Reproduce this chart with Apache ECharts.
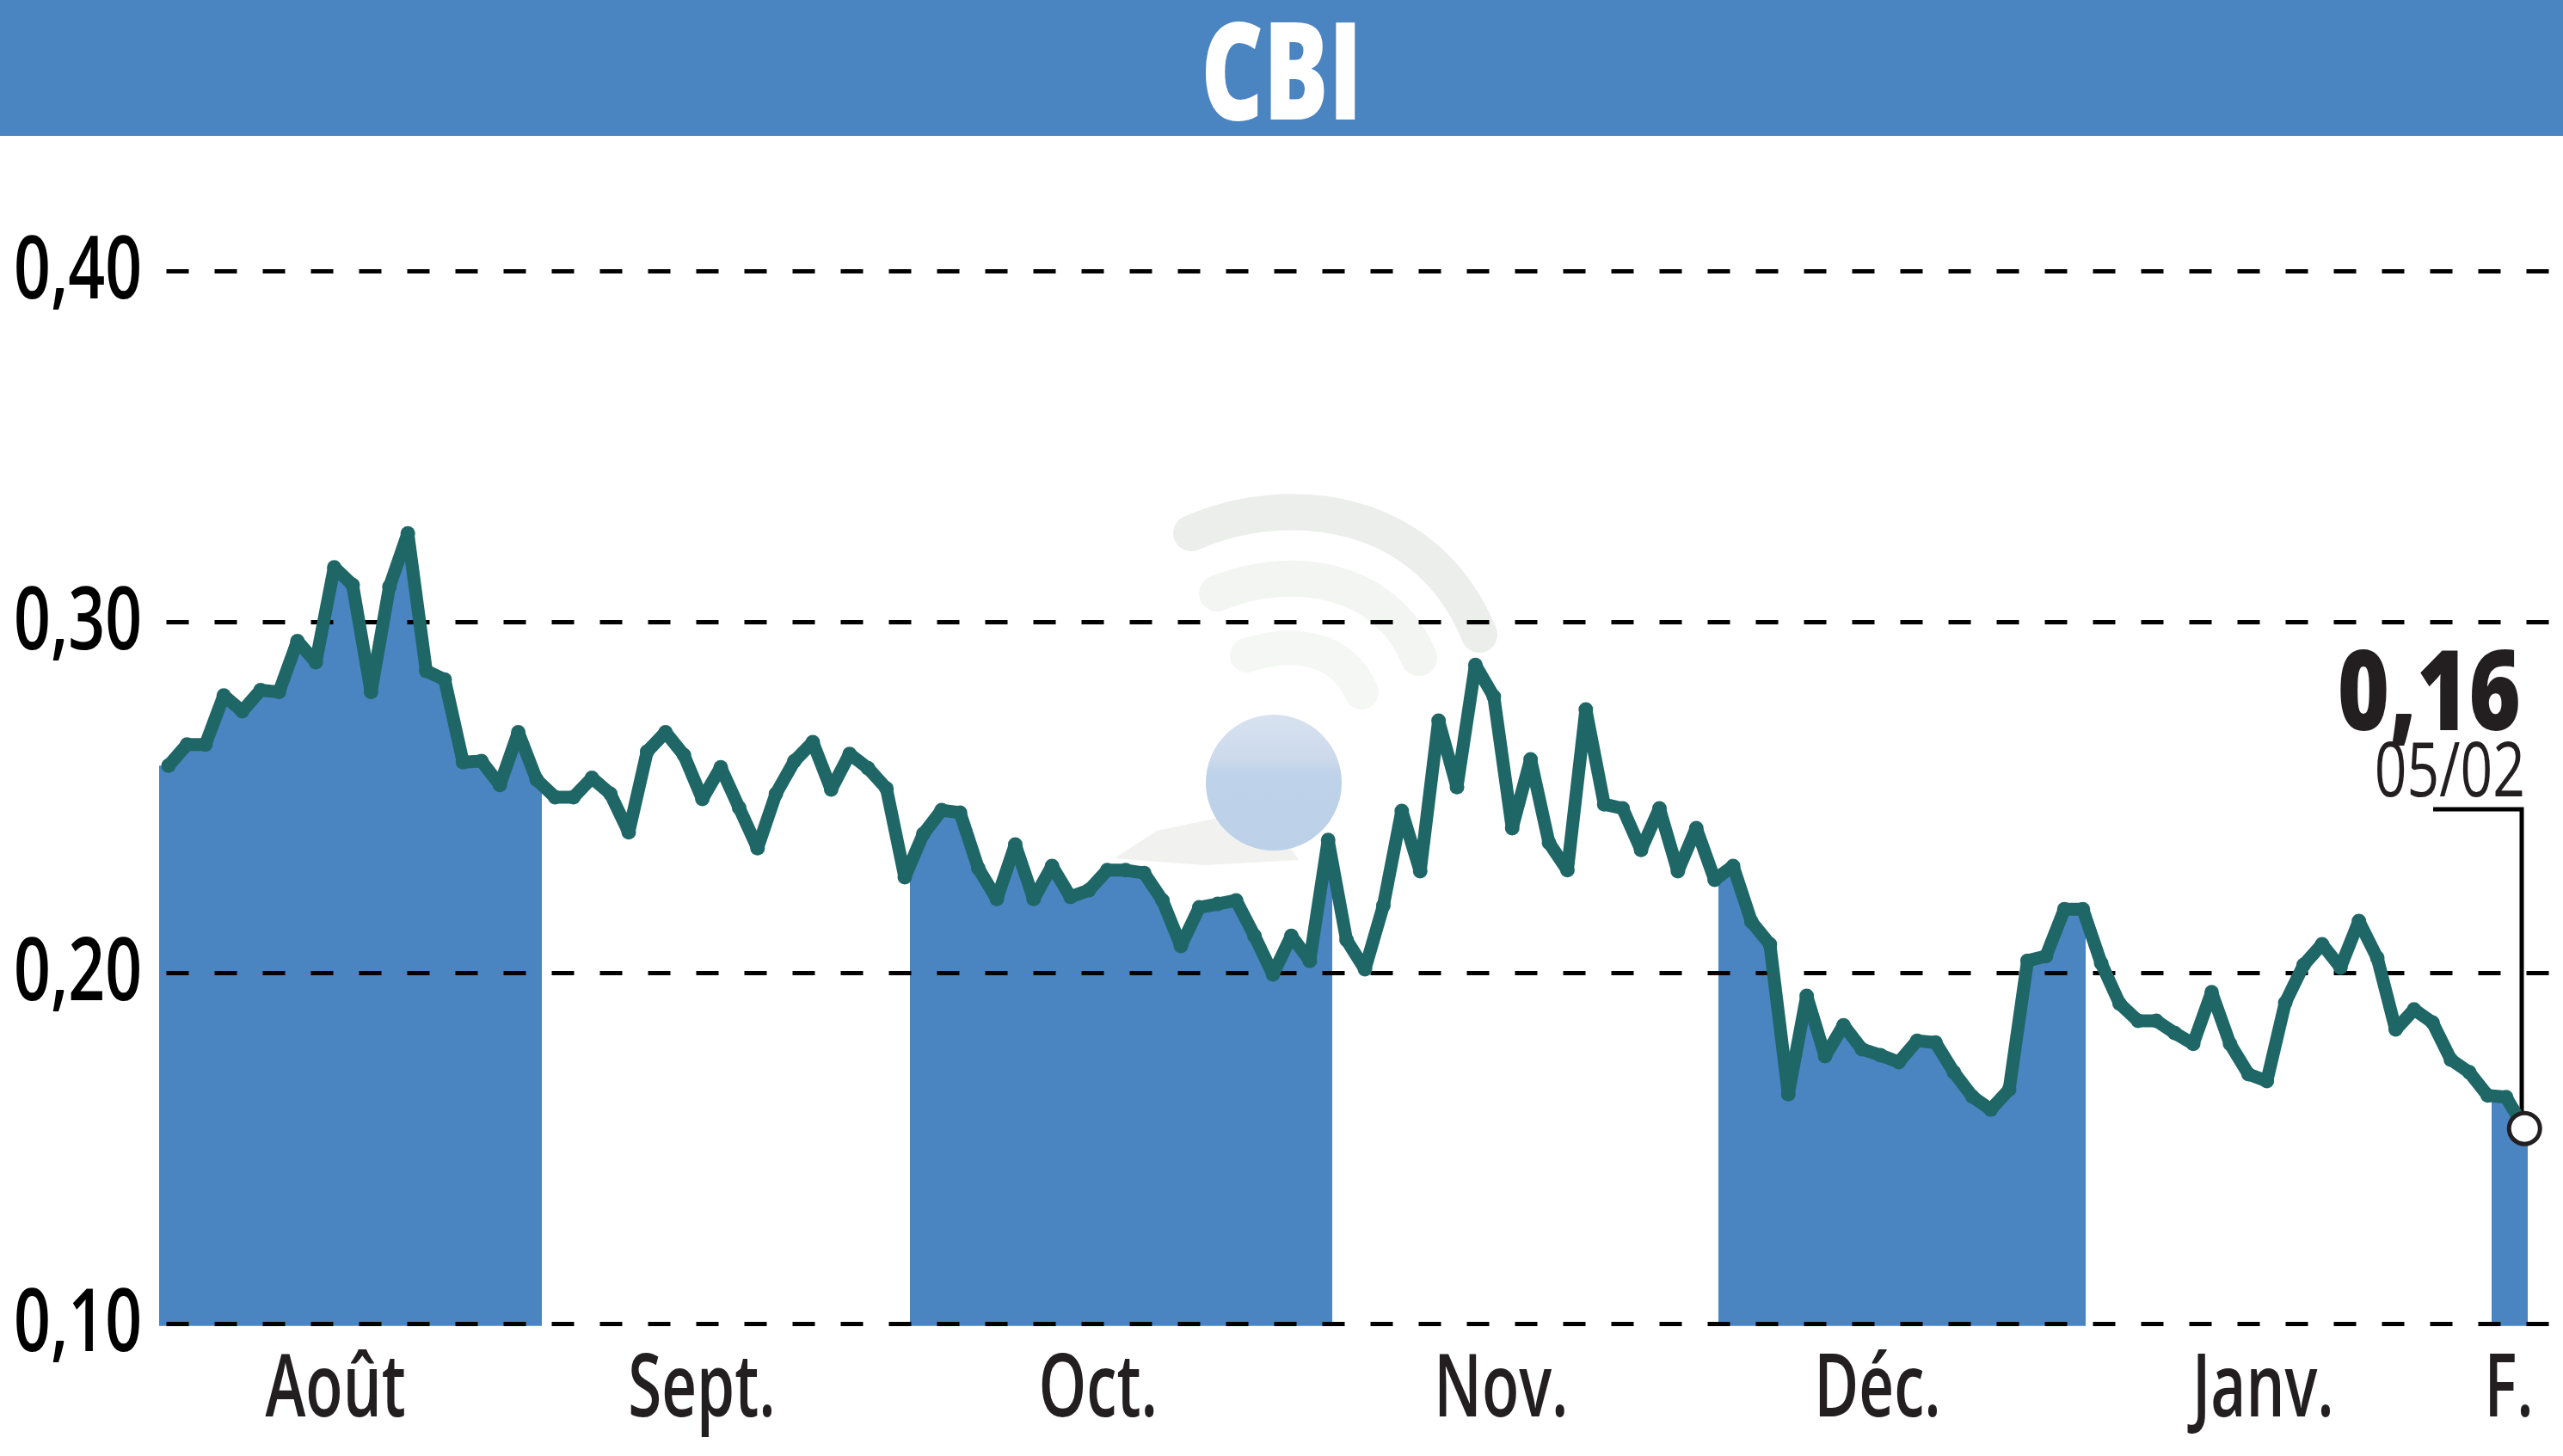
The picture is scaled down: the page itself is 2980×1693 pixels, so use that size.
<!DOCTYPE html>
<html>
<head>
<meta charset="utf-8">
<title>CBI</title>
<style>
  html, body { margin: 0; padding: 0; background: #fff; }
  #chart { width: 2980px; height: 1693px; }
</style>
<script src="https://cdn.jsdelivr.net/npm/echarts@6/dist/echarts.min.js"></script>
</head>
<body>
<div id="chart"></div>
<script>
const title = "CBI"
const lastValueLabel = "0,16"
const lastDateLabel = "05/02"

// daily close
const values = [
  0.259, 0.265, 0.265, 0.279, 0.2745, 0.2805, 0.28, 0.2945, 0.2885, 0.3155,
  0.3105, 0.28, 0.31, 0.3252, 0.286, 0.2835, 0.26, 0.2603, 0.2535, 0.2685,
  0.255, 0.25, 0.25, 0.2555, 0.251, 0.24, 0.263, 0.2685, 0.262, 0.2495,
  0.2585, 0.247, 0.2355, 0.251, 0.2603, 0.2657, 0.2522, 0.2623, 0.2583, 0.2525,
  0.2272, 0.2395, 0.2463, 0.2456, 0.2297, 0.221, 0.2365, 0.221, 0.2304, 0.2216,
  0.2235, 0.2292, 0.2292, 0.2284, 0.2206, 0.2076, 0.2186, 0.2196, 0.2206, 0.2105,
  0.1995, 0.2105, 0.2034, 0.2378, 0.2093, 0.201, 0.2191, 0.2461, 0.2289, 0.2718,
  0.2529, 0.2877, 0.2787, 0.2412, 0.2608, 0.237, 0.2292, 0.275, 0.248, 0.2468,
  0.235, 0.2468, 0.2289, 0.2412, 0.2265, 0.2304, 0.2145, 0.2081, 0.1654, 0.1934,
  0.1762, 0.185, 0.1782, 0.1765, 0.1745, 0.1806, 0.1801, 0.1716, 0.1647, 0.161,
  0.1667, 0.2034, 0.2047, 0.2181, 0.2181, 0.2027, 0.1912, 0.1863, 0.1863, 0.1828,
  0.1797, 0.1944, 0.1797, 0.1711, 0.1691, 0.1914, 0.2022, 0.2081, 0.2015, 0.2147,
  0.2042, 0.1838, 0.1895, 0.1858, 0.1752, 0.1716, 0.165, 0.1645, 0.1556,
]

// month labels and where they sit, in trading-day index
const monthLabels = ["Août", "Sept.", "Oct.", "Nov.", "Déc.", "Janv.", "F."]
const monthTicks = [9.07, 28.97, 50.5, 72.4, 92.85, 113.8, 127.15]

// blue month bands, in trading-day index
const bandStarts = [-0.514, 40.28, 84.21, 126.21]
const bandEnds = [20.28, 63.22, 104.16, 128.18]

const yTicks = [0.1, 0.2, 0.3, 0.4]
const xRange = { min: -0.514, max: 130.09 }

const blue = "#4a84c1"
const teal = "#1f6767"
const ink = "#231f20"
const fontName = '"Open Sans", "Liberation Sans", sans-serif'

const lastIndex = values.length - 1
const lineData = values.map((v, i) => [i, v])
// the fill starts and stops a little past the first and last day
const areaData = [[xRange.min, values[0]], ...lineData, [bandEnds[bandEnds.length - 1], values[lastIndex]]]

// condensed labels: no narrow font is installed, so squeeze the text itself
const squeezedLabel = (text, p, align, scaleX, color) => ({
  type: "text",
  x: p[0],
  y: p[1],
  scaleX: scaleX,
  style: {
    text: text,
    fill: color,
    textAlign: align,
    textVerticalAlign: "middle",
    fontFamily: fontName,
    fontSize: 102,
    fontWeight: 600,
  },
})

const myChart = echarts.init(document.getElementById("chart"), null, { renderer: "canvas" })

const option = {
  animation: false,
  backgroundColor: "#fff",
  grid: { left: 185, right: 0, top: 315, bottom: 154, containLabel: false, outerBoundsMode: "none" },
  xAxis: {
    type: "value",
    min: xRange.min,
    max: xRange.max,
    splitLine: { show: false },
    axisLine: { show: false },
    axisTick: { show: false },
    axisLabel: { show: false },
  },
  yAxis: {
    type: "value",
    z: 1,
    min: yTicks[0],
    max: yTicks[yTicks.length - 1],
    interval: 0.1,
    axisLine: { show: false },
    axisTick: { show: false },
    axisLabel: { show: false },
    splitLine: {
      lineStyle: { color: "#000", width: 5, type: [26, 30], dashOffset: 47.5 },
    },
  },
  visualMap: {
    show: false,
    type: "piecewise",
    dimension: 0,
    seriesIndex: 0,
    pieces: bandStarts.map((s, i) => ({ gte: s, lt: bandEnds[i], color: blue })),
    outOfRange: { color: "rgba(255,255,255,0)" },
  },
  series: [
    {
      name: "bands",
      type: "line",
      z: 0,
      clip: false,
      silent: true,
      showSymbol: false,
      data: areaData,
      lineStyle: { width: 0 },
      areaStyle: { opacity: 1, origin: 0.0993 },
    },
    {
      name: "cours",
      type: "line",
      z: 2,
      silent: true,
      symbol: "circle",
      symbolSize: 17,
      showAllSymbol: true,
      itemStyle: { color: teal },
      data: lineData,
      lineStyle: { color: teal, width: 15, join: "bevel" },
    },
    {
      name: "dernier",
      type: "scatter",
      z: 3,
      silent: true,
      symbolSize: 36,
      data: [lineData[lastIndex]],
      itemStyle: { color: "#fff", borderColor: ink, borderWidth: 5, opacity: 1 },
    },
    {
      name: "mois",
      type: "custom",
      z: 4,
      silent: true,
      data: monthTicks.map((t) => [t, yTicks[0]]),
      renderItem: (params, api) => {
        const p = api.coord([api.value(0), api.value(1)])
        return squeezedLabel(monthLabels[params.dataIndex], [p[0], p[1] + 79], "center", 0.695, ink)
      },
    },
    {
      name: "echelle",
      type: "custom",
      z: 4,
      silent: true,
      data: yTicks.map((t) => [xRange.min, t]),
      renderItem: (params, api) => {
        const p = api.coord([api.value(0), api.value(1)])
        return squeezedLabel(yTicks[params.dataIndex].toFixed(2).replace(".", ","), [p[0] - 20, p[1] + 3], "right", 0.735, "#000")
      },
    },
  ],
  graphic: [
    // header band
    { type: "rect", z: 5, shape: { x: 0, y: 0, width: 2980, height: 158 }, style: { fill: blue } },
    {
      type: "text", z: 6, x: 1490, y: 94, scaleX: 0.71,
      style: {
        text: title, fill: "#fff", textAlign: "center", textVerticalAlign: "middle",
        fontFamily: fontName, fontWeight: 800, fontSize: 158,
      },
    },
    // watermark
    { type: "bezierCurve", z: -1, shape: { x1: 1385, y1: 620, cpx1: 1500, cpy1: 570, cpx2: 1660, cpy2: 590, x2: 1720, y2: 738 }, style: { stroke: "#eceeec", lineWidth: 42, lineCap: "round", fill: null } },
    { type: "bezierCurve", z: -1, shape: { x1: 1415, y1: 690, cpx1: 1500, cpy1: 655, cpx2: 1610, cpy2: 670, x2: 1650, y2: 765 }, style: { stroke: "#f2f5f2", lineWidth: 42, lineCap: "round", fill: null } },
    { type: "bezierCurve", z: -1, shape: { x1: 1450, y1: 762, cpx1: 1500, cpy1: 745, cpx2: 1560, cpy2: 750, x2: 1583, y2: 805 }, style: { stroke: "#f5f7f5", lineWidth: 40, lineCap: "round", fill: null } },
    { type: "polygon", z: -1, shape: { points: [[1296, 998], [1345, 966], [1420, 950], [1500, 985], [1510, 1000], [1400, 1006]] }, style: { fill: "#f1f1ef" } },
    {
      type: "circle", z: -1, shape: { cx: 1481, cy: 910, r: 79 },
      style: {
        fill: new echarts.graphic.LinearGradient(0, 0, 0, 1, [
          { offset: 0, color: "#d8e2f0" },
          { offset: 0.34, color: "#cbd9ec" },
          { offset: 0.44, color: "#bed2e9" },
          { offset: 1, color: "#bcd1e8" },
        ]),
      },
    },
    // last value callout
    { type: "polyline", z: 1, shape: { points: [[2829, 941], [2932, 941], [2932, 1300]] }, style: { stroke: "#000", lineWidth: 5, fill: null } },
    {
      type: "text", z: 6, x: 2931, y: 812, scaleX: 0.8,
      style: {
        text: lastValueLabel, fill: ink, textAlign: "right", textVerticalAlign: "middle",
        fontFamily: fontName, fontWeight: 800, fontSize: 129,
      },
    },
    {
      type: "text", z: 6, x: 2936, y: 901, scaleX: 0.75,
      style: {
        text: lastDateLabel, fill: ink, textAlign: "right", textVerticalAlign: "middle",
        fontFamily: fontName, fontSize: 88,
      },
    },
  ],
}

myChart.setOption(option)
window.onresize = function () {
  myChart.resize()
}
</script>
</body>
</html>
